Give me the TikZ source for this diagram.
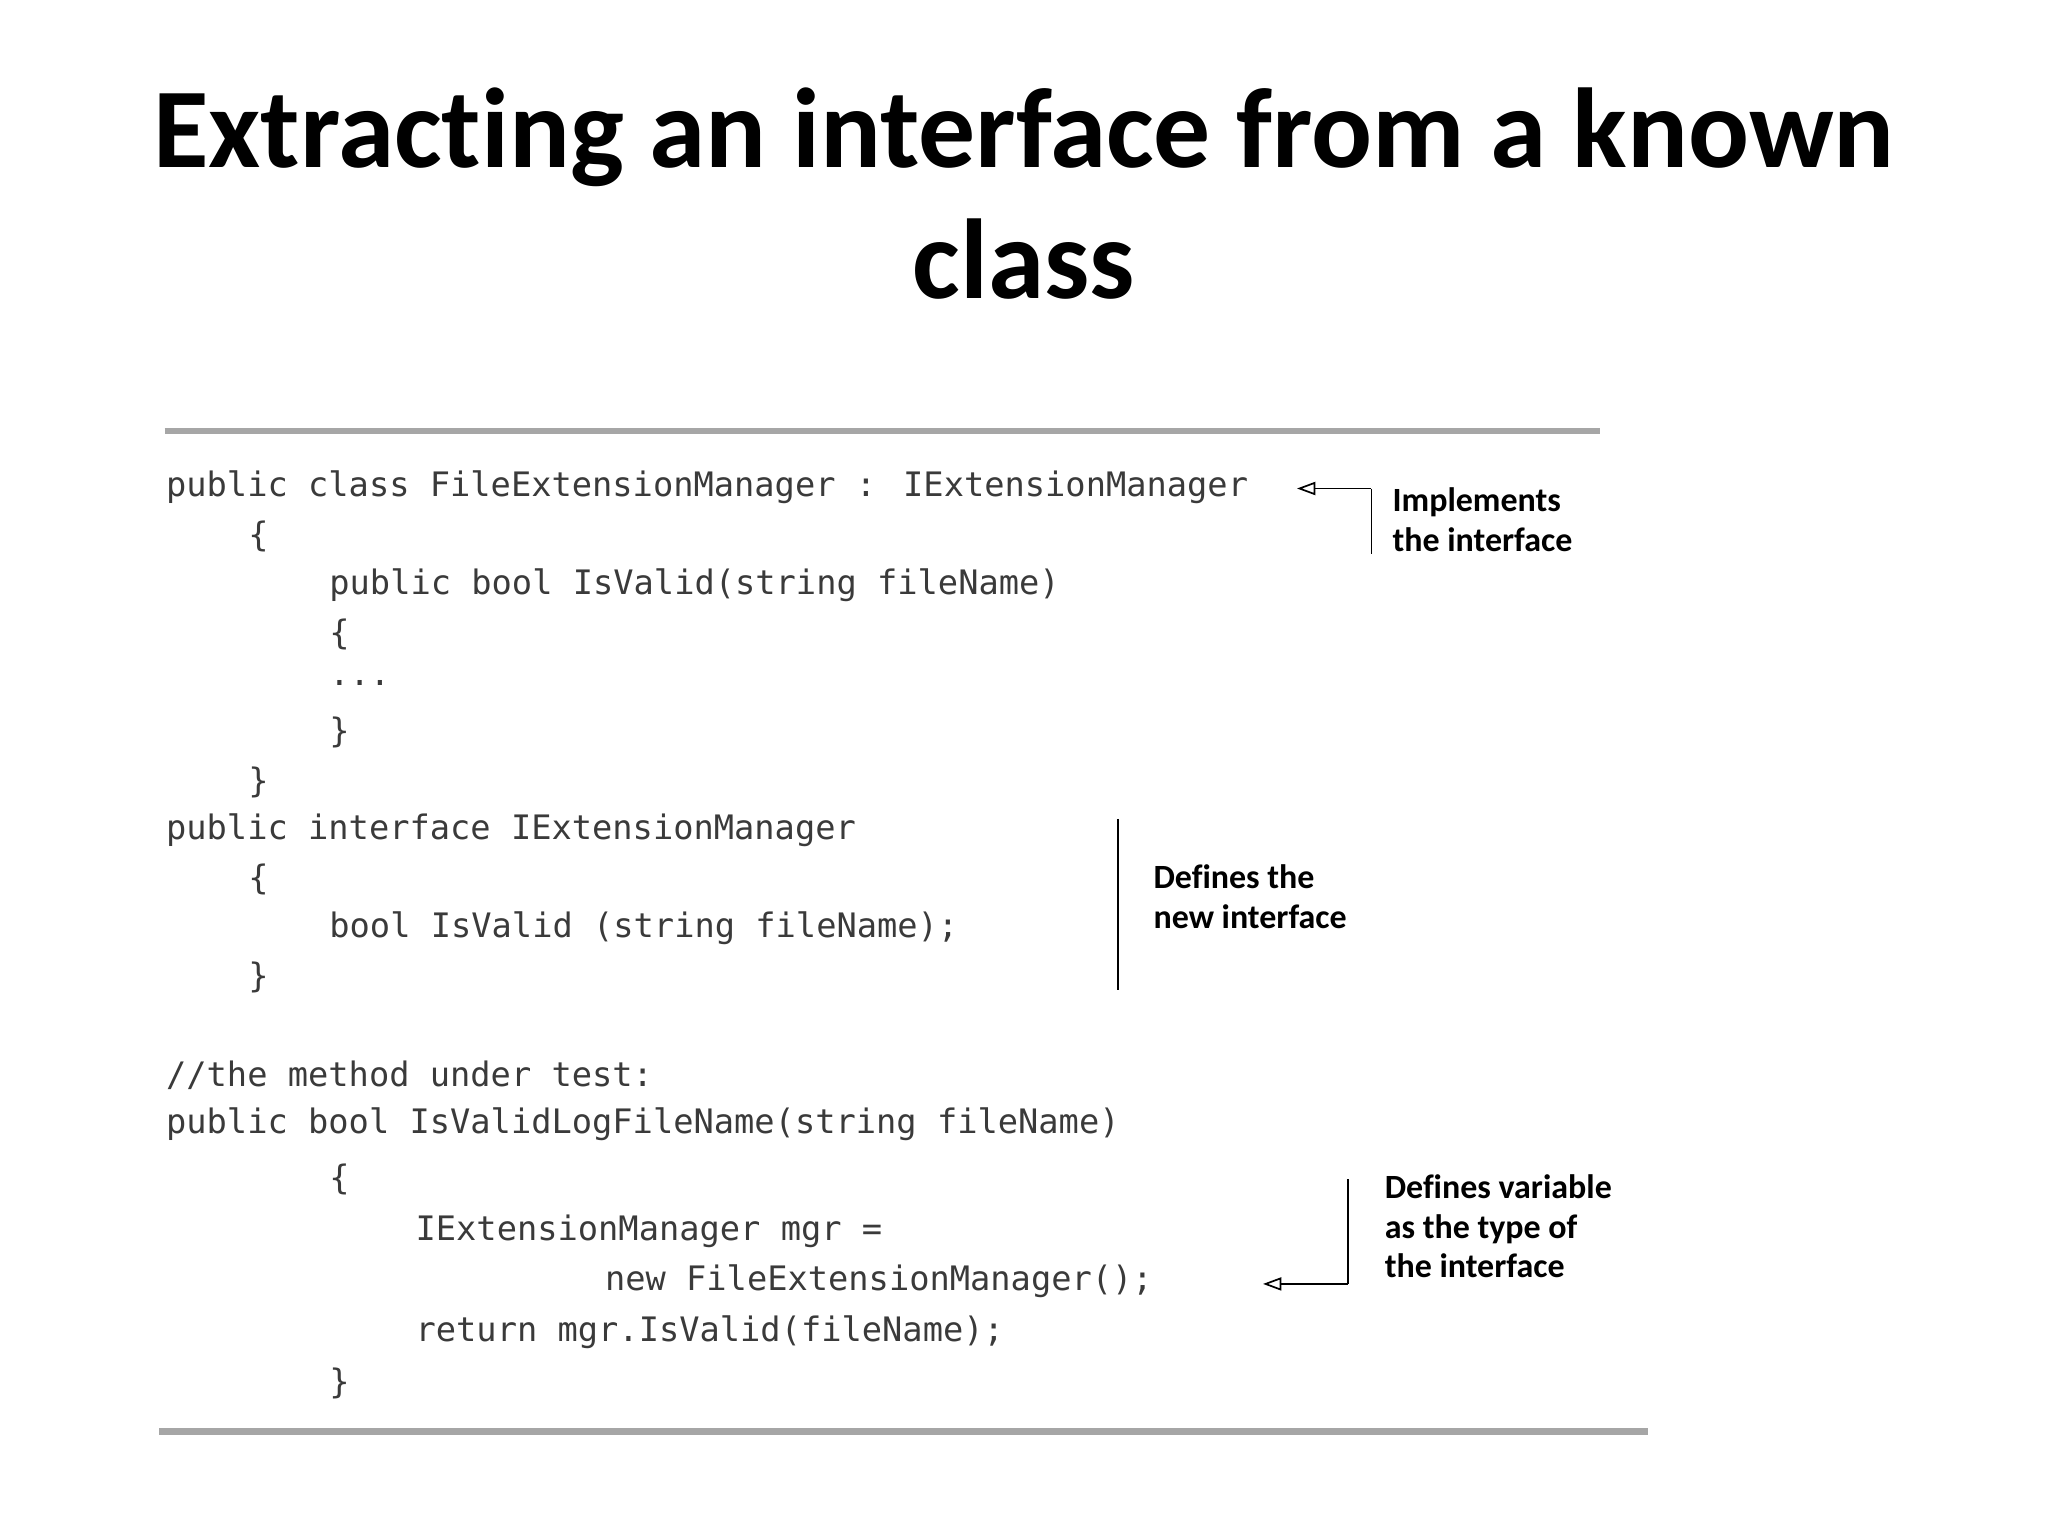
\documentclass[tikz,border=0pt]{standalone}
\usepackage{fontspec}
\setmainfont[Ligatures={NoCommon,NoDiscretionary,NoRare}]{Carlito}
\newfontfamily\codefont{DejaVu Sans Mono}
\usetikzlibrary{arrows.meta}
\definecolor{codec}{HTML}{3A3A3A}
\begin{document}
\begin{tikzpicture}[x=1pt,y=-1pt,
  code/.style={anchor=west,inner sep=0pt,text=codec,font=\codefont\fontsize{25.8}{30}\selectfont},
  note/.style={anchor=north west,inner sep=0pt,align=left,font=\bfseries\fontsize{26}{30.5}\selectfont},
  bar/.style={line width=5pt,draw=black!35},
  lead/.style={line width=1.3pt},
  tip/.style={-{Triangle[open,length=14pt,width=10pt]},line width=1.3pt}]
\useasboundingbox (0,0) rectangle (1568,1176);
\node[inner sep=0pt,align=center,font=\bfseries\fontsize{87}{100}\selectfont] (title) at (784,148) {Extrac\kern0ptting an interface from a known\\class};
\draw[bar] (126,330) -- (1225,330);
\draw[bar] (122,1096) -- (1262,1096);
\node[code] (l1) at (127,373) {public class FileExtensionManager : IExtensionManager};
\node[code] (l2) at (190,411) {\{};
\node[code] (l3) at (252,448) {public bool IsValid(string fileName)};
\node[code] (l4) at (252,486) {\{};
\node[code] (l5) at (252,523) {...};
\node[code] (l6) at (252,561) {\}};
\node[code] (l7) at (190,599) {\}};
\node[code] (l8) at (127,636) {public interface IExtensionManager};
\node[code] (l9) at (190,673) {\{};
\node[code] (l10) at (252,711) {bool IsValid (string fileName);};
\node[code] (l11) at (190,748) {\}};
\node[code] (l12) at (127,823) {//the method under test:};
\node[code] (l13) at (127,861) {public bool IsValidLogFileName(string fileName)};
\node[code] (l14) at (252,903) {\{};
\node[code] (l15) at (318,943) {IExtensionManager mgr =};
\node[code] (l16) at (463,981) {new FileExtensionManager();};
\node[code] (l17) at (318,1020) {return mgr.IsValid(fileName);};
\node[code] (l18) at (252,1059) {\}};
% annotation 1
\coordinate (a1) at (1050,374); \coordinate (a1b) at (1050,424); \coordinate (a1t) at (993,374);
\draw[lead] (a1b) -- (a1);
\draw[tip] (a1) -- (a1t);
\node[note] (n1) at (1066,373) {Implements\\the interface};
% annotation 2
\coordinate (b1) at (856,627); \coordinate (b2) at (856,758);
\draw[lead] (b1) -- (b2);
\node[note] (n2) at (883,662) {Defines the\\new interface};
% annotation 3
\coordinate (c1) at (1032,903); \coordinate (c2) at (1032,983); \coordinate (c3) at (967,983);
\draw[lead] (c1) -- (c2);
\draw[tip] (c2) -- (c3);
\node[note] (n3) at (1060,899) {Defines variable\\as the type of\\the interface};
\end{tikzpicture}
\end{document}
